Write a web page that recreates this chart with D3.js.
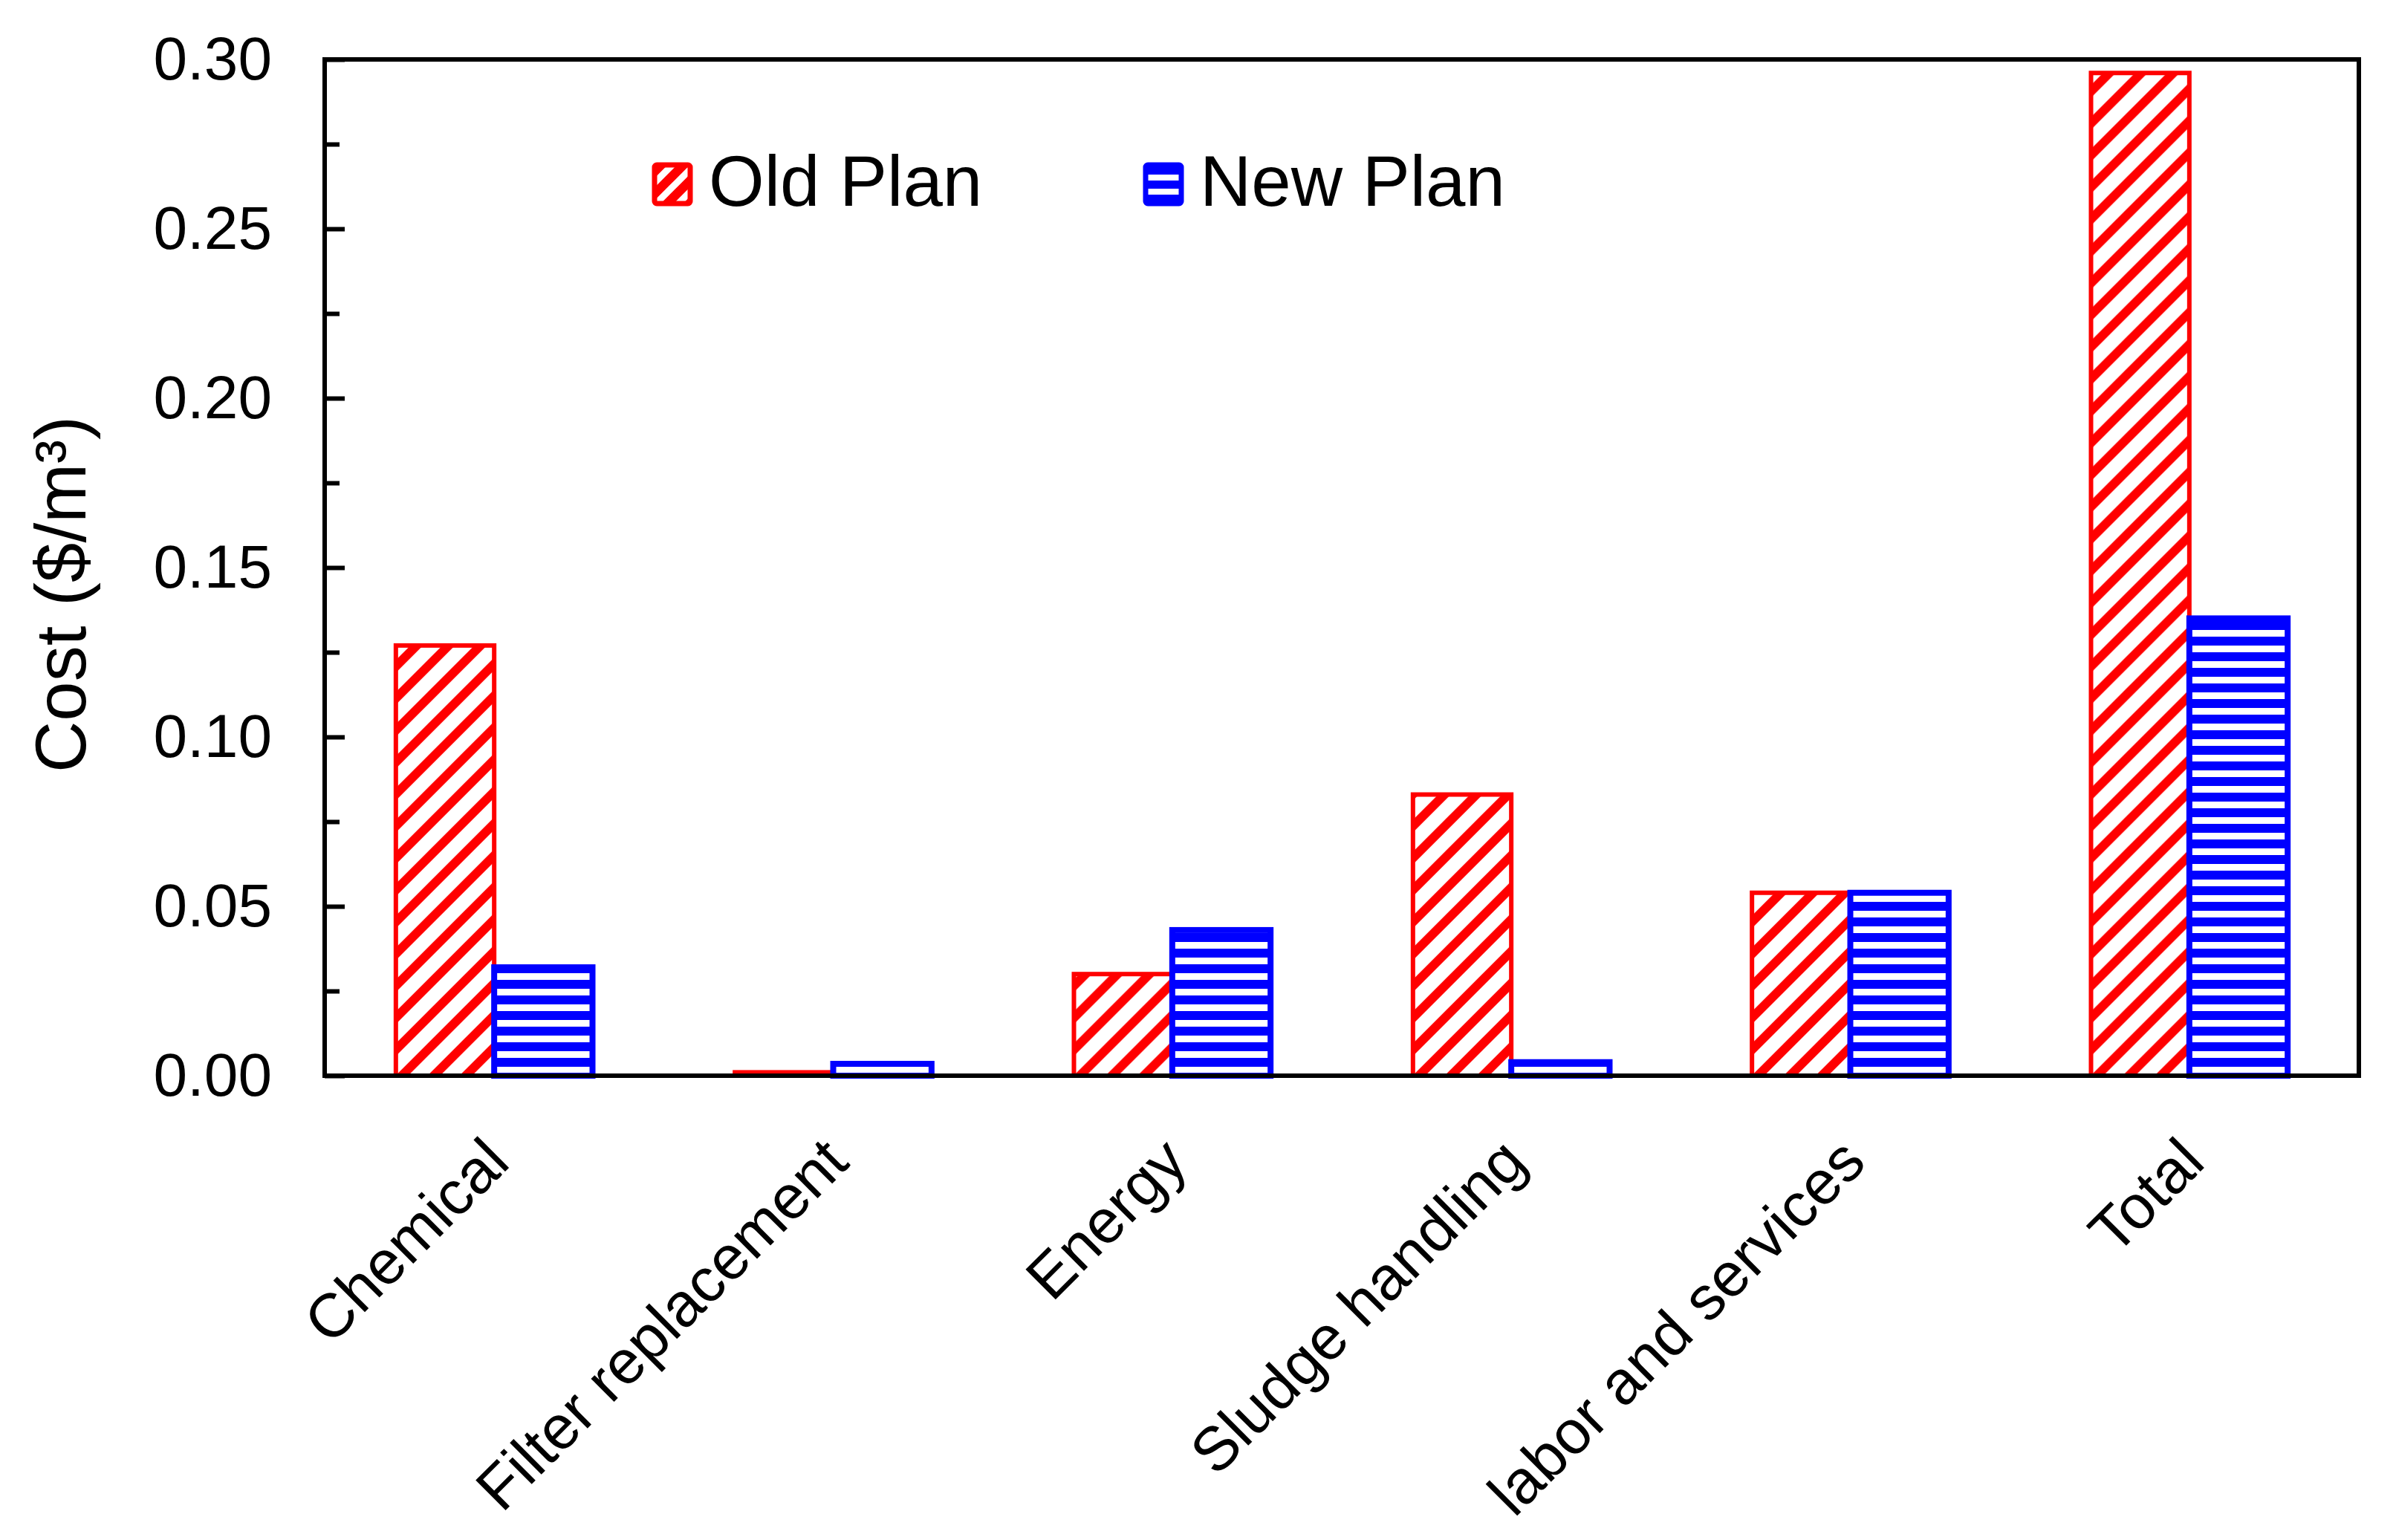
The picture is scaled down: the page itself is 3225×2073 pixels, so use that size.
<!DOCTYPE html>
<html>
<head>
<meta charset="utf-8">
<script src="https://cdn.jsdelivr.net/npm/d3@7"></script>
<style>
  body { margin: 0; background: #fff; }
  text { font-family: "Liberation Sans", Arial, sans-serif; fill: #000; }
</style>
</head>
<body>
<svg class="chart"></svg>
<script>
// -------------------- Data --------------------
var categories = ["Chemical", "Filter replacement", "Energy", "Sludge handling", "labor and services", "Total"];
var seriesNames = ["Old Plan", "New Plan"];
var oldPlan = [0.127, 0.001, 0.030, 0.083, 0.054, 0.296];
var newPlan = [0.032, 0.0035, 0.043, 0.004, 0.054, 0.135];
var majorTicks = [0, 0.05, 0.10, 0.15, 0.20, 0.25, 0.30];
var minorTicks = [0.025, 0.075, 0.125, 0.175, 0.225, 0.275];

// -------------------- Settings --------------------
var W = 3225, H = 2073;
var margin = {top: 80, right: 50, bottom: 625, left: 437}
  , width = W - margin.left - margin.right
  , height = H - margin.top - margin.bottom;

var svg = d3.select(".chart")
  .attr("width", W)
  .attr("height", H);

// -------------------- Patterns --------------------
var defs = svg.append("defs");

// red diagonal hatch for the old plan
var diag = defs.append("pattern")
  .attr("id", "diag")
  .attr("patternUnits", "userSpaceOnUse")
  .attr("width", 43).attr("height", 43);
diag.append("rect").attr("width", 43).attr("height", 43).attr("fill", "#fff");
diag.append("path")
  .attr("d", "M-10,53 L53,-10 M-31.5,31.5 L31.5,-31.5 M11.5,74.5 L74.5,11.5")
  .attr("stroke", "#ff0000").attr("stroke-width", 12);

// blue horizontal hatch for the new plan
var horiz = defs.append("pattern")
  .attr("id", "horiz")
  .attr("patternUnits", "userSpaceOnUse")
  .attr("width", 20).attr("height", 21);
horiz.append("rect").attr("width", 20).attr("height", 21).attr("fill", "#fff");
horiz.append("rect").attr("width", 20).attr("height", 12).attr("fill", "#0000ff");

var fills = ["url(#diag)", "url(#horiz)"];
var strokes = ["#ff0000", "#0000ff"];

// -------------------- Scales --------------------
var chart = svg.append("g")
  .attr("transform", "translate(" + margin.left + "," + margin.top + ")");

var x = d3.scaleBand()
  .domain(categories)
  .range([0, width])
  .paddingInner(0.42)
  .paddingOuter(0.21);

var xs = d3.scaleBand()
  .domain(seriesNames)
  .range([0, x.bandwidth()]);

var y = d3.scaleLinear()
  .domain([0, 0.30])
  .range([height, 0]);

// -------------------- Bars --------------------
var rows = categories.map(function(c, i) {
  return {cat: c, values: [oldPlan[i], newPlan[i]]};
});

var group = chart.selectAll(".grp")
  .data(rows)
  .enter().append("g")
    .attr("class", "grp")
    .attr("transform", function(d) { return "translate(" + x(d.cat) + ",0)"; });

group.selectAll("rect")
  .data(function(d) { return d.values.map(function(v, j) { return {s: j, v: v}; }); })
  .enter().append("rect")
    .attr("x", function(d) { return xs(seriesNames[d.s]); })
    .attr("y", function(d) { return y(d.v); })
    .attr("width", xs.bandwidth())
    .attr("height", function(d) { return height - y(d.v); })
    .attr("fill", function(d) { return fills[d.s]; })
    .attr("stroke", function(d) { return strokes[d.s]; })
    .attr("stroke-width", function(d) { return d.s === 0 ? 6 : 8; });

// -------------------- Axes --------------------
var yAxis = d3.axisLeft(y)
  .tickValues(majorTicks)
  .tickFormat(d3.format(".2f"))
  .tickSizeInner(-27)
  .tickSizeOuter(0)
  .tickPadding(71);

var yg = chart.append("g").call(yAxis);
yg.select(".domain").remove();
yg.selectAll("line").attr("stroke", "#000").attr("stroke-width", 6);
yg.selectAll("text")
  .style("font-size", "82px")
  .style("font-family", "'Liberation Sans', Arial, sans-serif")
  .attr("fill", "#000");

var yMinor = d3.axisLeft(y)
  .tickValues(minorTicks)
  .tickFormat("")
  .tickSizeInner(-20)
  .tickSizeOuter(0);
var ym = chart.append("g").call(yMinor);
ym.select(".domain").remove();
ym.selectAll("line").attr("stroke", "#000").attr("stroke-width", 6);

// frame
chart.append("rect")
  .attr("x", 0).attr("y", 0)
  .attr("width", width).attr("height", height)
  .attr("fill", "none")
  .attr("stroke", "#000")
  .attr("stroke-width", 6);

// category labels
chart.selectAll(".xlab")
  .data(categories)
  .enter().append("text")
    .attr("class", "xlab")
    .attr("text-anchor", "end")
    .attr("transform", function(d) {
      return "translate(" + (x(d) + x.bandwidth() / 2 + 24) + "," + (height + 120) + ") rotate(-45)";
    })
    .style("font-size", "83px")
    .text(function(d) { return d; });

// y title
svg.append("text")
  .attr("transform", "translate(115,800) rotate(-90)")
  .attr("text-anchor", "middle")
  .style("font-size", "96px")
  .text("Cost ($/m\u00B3)");

// -------------------- Legend --------------------
var legendX = [878, 1539];
var legend = svg.selectAll(".leg")
  .data(seriesNames)
  .enter().append("g")
    .attr("class", "leg")
    .attr("transform", function(d, i) { return "translate(" + legendX[i] + ",219)"; });

var sw = defs.append("pattern")
  .attr("id", "swdiag")
  .attr("patternUnits", "userSpaceOnUse")
  .attr("width", 30).attr("height", 30);
sw.append("rect").attr("width", 30).attr("height", 30).attr("fill", "#ff0000");
sw.append("path")
  .attr("d", "M-8,38 L38,-8 M-23,23 L23,-23 M7,53 L53,7")
  .attr("stroke", "#fff").attr("stroke-width", 9);

var swh = defs.append("pattern")
  .attr("id", "swhoriz")
  .attr("patternUnits", "userSpaceOnUse")
  .attr("width", 20).attr("height", 19)
  .attr("y", 219);
swh.append("rect").attr("width", 20).attr("height", 19).attr("fill", "#0000ff");
swh.append("rect").attr("y", 6).attr("width", 20).attr("height", 8).attr("fill", "#fff");

var swFills = ["url(#swdiag)", "url(#swhoriz)"];

legend.append("rect")
  .attr("x", 3).attr("y", 3)
  .attr("width", 48).attr("height", 52)
  .attr("rx", 3)
  .attr("fill", function(d, i) { return swFills[i]; })
  .attr("stroke", function(d, i) { return strokes[i]; })
  .attr("stroke-width", 7);

legend.append("text")
  .attr("x", 76)
  .attr("y", 58)
  .style("font-size", "96px")
  .text(function(d) { return d; });
</script>
</body>
</html>
